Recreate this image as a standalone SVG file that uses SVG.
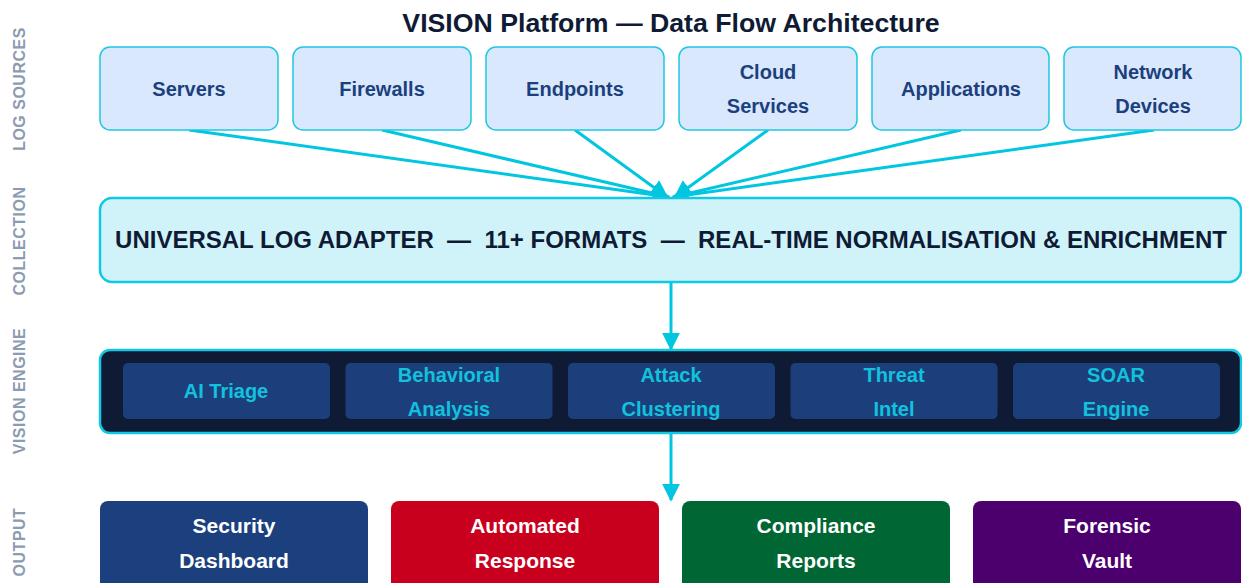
<svg xmlns="http://www.w3.org/2000/svg" width="1242" height="583" viewBox="0 0 1242 583">
<defs>
<style>
text{font-family:"Liberation Sans",Arial,sans-serif;font-weight:bold;text-anchor:middle}
.lane{fill:#8b9bb0;font-size:16px;letter-spacing:0.5px}
.title{fill:#0f1b35;font-size:26.7px}
.src rect{fill:#d9e8fc;stroke:#1ec8e2;stroke-width:1.5}
.src text{fill:#1c3f7e;font-size:20px}
.eng rect{fill:#1c3f7c}
.eng text{fill:#12c2dc;font-size:20px}
.out text{fill:#ffffff;font-size:21px}
.conn line{stroke:#00c6e0;stroke-width:3;fill:none}
</style>
<marker id="ah" viewBox="0 0 10 10" refX="9" refY="5" markerWidth="6" markerHeight="6" markerUnits="strokeWidth" orient="auto">
<path d="M0,0 L10,5 L0,10 z" fill="#00c6e0"/>
</marker>
</defs>
<rect width="1242" height="583" fill="#ffffff"/>
<g id="lanes">
<text class="lane" transform="translate(24.5,89) rotate(-90)">LOG SOURCES</text>
<text class="lane" transform="translate(24.5,241) rotate(-90)">COLLECTION</text>
<text class="lane" transform="translate(24.5,391) rotate(-90)">VISION ENGINE</text>
<text class="lane" transform="translate(24.5,542) rotate(-90)">OUTPUT</text>
</g>
<text id="title" class="title" x="671" y="32">VISION Platform — Data Flow Architecture</text>
<g id="connectors" class="conn">
<line x1="189" y1="130" x2="669" y2="197" marker-end="url(#ah)"/>
<line x1="382" y1="130" x2="669" y2="197" marker-end="url(#ah)"/>
<line x1="575" y1="130" x2="667" y2="197" marker-end="url(#ah)"/>
<line x1="768" y1="130" x2="675" y2="197" marker-end="url(#ah)"/>
<line x1="961" y1="130" x2="673" y2="197" marker-end="url(#ah)"/>
<line x1="1154" y1="130" x2="673" y2="197" marker-end="url(#ah)"/>
<line x1="671" y1="282" x2="671" y2="349" marker-end="url(#ah)"/>
<line x1="671" y1="433" x2="671" y2="500" marker-end="url(#ah)"/>
</g>
<g id="servers" class="src"><rect x="100" y="47" width="178" height="83" rx="10"/><text x="189" y="96">Servers</text></g>
<g id="firewalls" class="src"><rect x="293" y="47" width="178" height="83" rx="10"/><text x="382" y="96">Firewalls</text></g>
<g id="endpoints" class="src"><rect x="486" y="47" width="178" height="83" rx="10"/><text x="575" y="96">Endpoints</text></g>
<g id="cloud" class="src"><rect x="679" y="47" width="178" height="83" rx="10"/><text x="768" y="79">Cloud</text><text x="768" y="113">Services</text></g>
<g id="applications" class="src"><rect x="872" y="47" width="177" height="83" rx="10"/><text x="961" y="96">Applications</text></g>
<g id="network" class="src"><rect x="1064" y="47" width="177" height="83" rx="10"/><text x="1153" y="79">Network</text><text x="1153" y="113">Devices</text></g>
<g id="collection">
<rect x="100" y="198" width="1141" height="84" rx="12" fill="#d0f3f9" stroke="#12c8e2" stroke-width="2.5"/>
<text x="671" y="248" fill="#0f1b35" font-size="24" xml:space="preserve">UNIVERSAL LOG ADAPTER  —  11+ FORMATS  —  REAL-TIME NORMALISATION &amp; ENRICHMENT</text>
</g>
<g id="engine">
<rect x="100" y="350" width="1141" height="83" rx="10" fill="#0f1b35" stroke="#12c8e2" stroke-width="2.5"/>
</g>
<g id="ai-triage" class="eng"><rect x="123" y="363" width="207" height="56" rx="5"/><text x="226" y="398">AI Triage</text></g>
<g id="behavioral" class="eng"><rect x="345.5" y="363" width="207" height="56" rx="5"/><text x="449" y="382">Behavioral</text><text x="449" y="416">Analysis</text></g>
<g id="attack" class="eng"><rect x="568" y="363" width="207" height="56" rx="5"/><text x="671" y="382">Attack</text><text x="671" y="416">Clustering</text></g>
<g id="threat" class="eng"><rect x="790.5" y="363" width="207" height="56" rx="5"/><text x="894" y="382">Threat</text><text x="894" y="416">Intel</text></g>
<g id="soar" class="eng"><rect x="1013" y="363" width="207" height="56" rx="5"/><text x="1116" y="382">SOAR</text><text x="1116" y="416">Engine</text></g>
<g id="dashboard" class="out"><rect x="100" y="501" width="268" height="92" rx="8" fill="#1c3f7e"/><text x="234" y="533">Security</text><text x="234" y="568">Dashboard</text></g>
<g id="response" class="out"><rect x="391" y="501" width="268" height="92" rx="8" fill="#c8001e"/><text x="525" y="533">Automated</text><text x="525" y="568">Response</text></g>
<g id="compliance" class="out"><rect x="682" y="501" width="268" height="92" rx="8" fill="#006633"/><text x="816" y="533">Compliance</text><text x="816" y="568">Reports</text></g>
<g id="forensic" class="out"><rect x="973" y="501" width="268" height="92" rx="8" fill="#4b006e"/><text x="1107" y="533">Forensic</text><text x="1107" y="568">Vault</text></g>
</svg>
